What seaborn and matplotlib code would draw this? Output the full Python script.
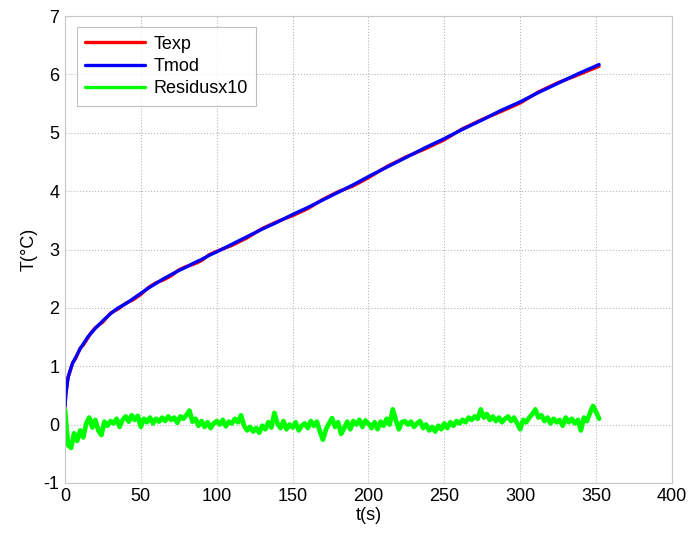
import numpy as np
import pandas as pd
import seaborn as sns
import matplotlib
matplotlib.use('Agg')
import matplotlib.pyplot as plt

# temps (s) et temperatures
t_temp = [0, 0.5, 1, 2, 3, 5, 7, 10, 12, 15, 17, 20, 25, 30, 35, 40, 45, 50, 55, 60, 65, 70,
          75, 80, 85, 90, 95, 100, 110, 120, 130, 140, 150, 160, 170, 180, 190, 200, 212,
          225, 237, 250, 262, 275, 287, 300, 312, 325, 338, 352]
T_mod = [0.30, 0.50, 0.62, 0.80, 0.90, 1.05, 1.15, 1.30, 1.38, 1.50, 1.56, 1.65, 1.78, 1.90,
         2.00, 2.07, 2.16, 2.25, 2.34, 2.42, 2.50, 2.57, 2.64, 2.70, 2.77, 2.83, 2.90, 2.96,
         3.09, 3.22, 3.35, 3.47, 3.60, 3.72, 3.85, 3.98, 4.11, 4.25, 4.41, 4.58, 4.74, 4.90,
         5.06, 5.22, 5.38, 5.53, 5.69, 5.85, 6.01, 6.17]
T_exp = [0.32, 0.52, 0.60, 0.82, 0.88, 1.06, 1.13, 1.31, 1.36, 1.48, 1.57, 1.66, 1.76, 1.91,
         1.98, 2.08, 2.14, 2.23, 2.35, 2.43, 2.48, 2.55, 2.65, 2.71, 2.75, 2.81, 2.91, 2.97,
         3.07, 3.20, 3.36, 3.48, 3.58, 3.70, 3.86, 3.99, 4.09, 4.23, 4.42, 4.59, 4.72, 4.88,
         5.07, 5.23, 5.36, 5.51, 5.70, 5.86, 5.99, 6.14]

# residus x10, un point tous les 2 s
t_res = list(range(0, 353, 2))
res = [0.25, -0.35, -0.40, -0.15, -0.28, -0.10, -0.22, 0.02, 0.12, -0.05,
       0.08, -0.10, -0.18, 0.05, -0.02, 0.06, 0.02, 0.10, -0.04, 0.08,
       0.14, 0.05, 0.16, 0.08, 0.15, -0.04, 0.10, 0.04, 0.12, 0.02,
       0.10, 0.05, 0.12, 0.06, 0.14, 0.08, 0.12, 0.03, 0.14, 0.10,
       0.16, 0.24, 0.05, 0.10, -0.02, 0.06, -0.04, 0.04, -0.06, 0.02,
       0.06, 0.00, 0.08, -0.03, 0.05, 0.02, 0.10, 0.04, 0.16, -0.02,
       -0.10, -0.04, -0.12, -0.06, -0.14, -0.02, -0.08, 0.04, -0.05, 0.20,
       0.02, -0.06, 0.06, -0.08, 0.00, -0.05, 0.04, -0.10, -0.02, 0.02,
       -0.06, 0.06, -0.02, 0.05, -0.12, -0.26, -0.08, 0.02, 0.11, -0.04,
       0.04, -0.16, -0.06, 0.05, -0.08, 0.06, 0.00, 0.08, -0.04, 0.07,
       0.02, -0.06, 0.04, -0.08, 0.05, -0.02, 0.10, 0.00, 0.26, 0.08,
       -0.08, 0.04, 0.06, 0.00, 0.05, -0.04, 0.02, 0.06, -0.06, 0.00,
       -0.10, -0.04, -0.12, -0.02, -0.08, 0.02, -0.06, 0.04, -0.02, 0.06,
       0.02, 0.08, 0.04, 0.12, 0.08, 0.14, 0.10, 0.26, 0.12, 0.18,
       0.08, 0.14, 0.06, 0.12, 0.04, 0.10, 0.14, 0.06, 0.12, 0.02,
       -0.08, 0.08, 0.04, 0.12, 0.18, 0.26, 0.12, 0.16, 0.06, 0.12,
       0.02, 0.10, 0.04, 0.08, -0.02, 0.12, 0.04, 0.10, 0.02, 0.08,
       -0.10, 0.12, 0.06, 0.20, 0.32, 0.22, 0.10]

sns.set_style('white')
plt.rcParams['font.family'] = ['Liberation Sans', 'DejaVu Sans']
plt.rcParams['axes.unicode_minus'] = False
plt.rcParams['text.color'] = 'black'
plt.rcParams['axes.labelcolor'] = 'black'
plt.rcParams['xtick.color'] = 'black'
plt.rcParams['ytick.color'] = 'black'

fig = plt.figure(figsize=(6.96, 5.36), dpi=100)
ax = fig.add_axes([0.0934, 0.099, 0.872, 0.871])

sns.lineplot(x=t_temp, y=T_exp, color='#ff0000', lw=2.4, label='Texp', ax=ax)
sns.lineplot(x=t_temp, y=T_mod, color='#0000ff', lw=2.4, label='Tmod', ax=ax)
sns.lineplot(x=t_res, y=res, color='#00ff00', lw=3.4, label='Residusx10', ax=ax)

ax.set_xlim(0, 400)
ax.set_ylim(-1, 7)
ax.set_xticks(range(0, 401, 50))
ax.set_yticks(range(-1, 8))
ax.grid(True, ls=':', color='#b8b8b8', lw=0.8)
for s in ax.spines.values():
    s.set_color('#c8c8c8')
ax.tick_params(labelsize=13, length=0, pad=4, colors='black')
ax.set_xlabel('t(s)', fontsize=13, labelpad=1)
ax.set_ylabel('T(°C)', fontsize=13, labelpad=4)

leg = ax.legend(loc='upper left', bbox_to_anchor=(0.005, 0.995), fontsize=13,
                handlelength=3.3, frameon=True, fancybox=False, borderpad=0.45,
                labelspacing=0.3, handletextpad=0.5)
leg.get_frame().set_edgecolor('#b0b0b0')
leg.get_frame().set_linewidth(0.8)
for line in leg.get_lines():
    line.set_linewidth(2.4)

fig.savefig('out.png', dpi=100)
